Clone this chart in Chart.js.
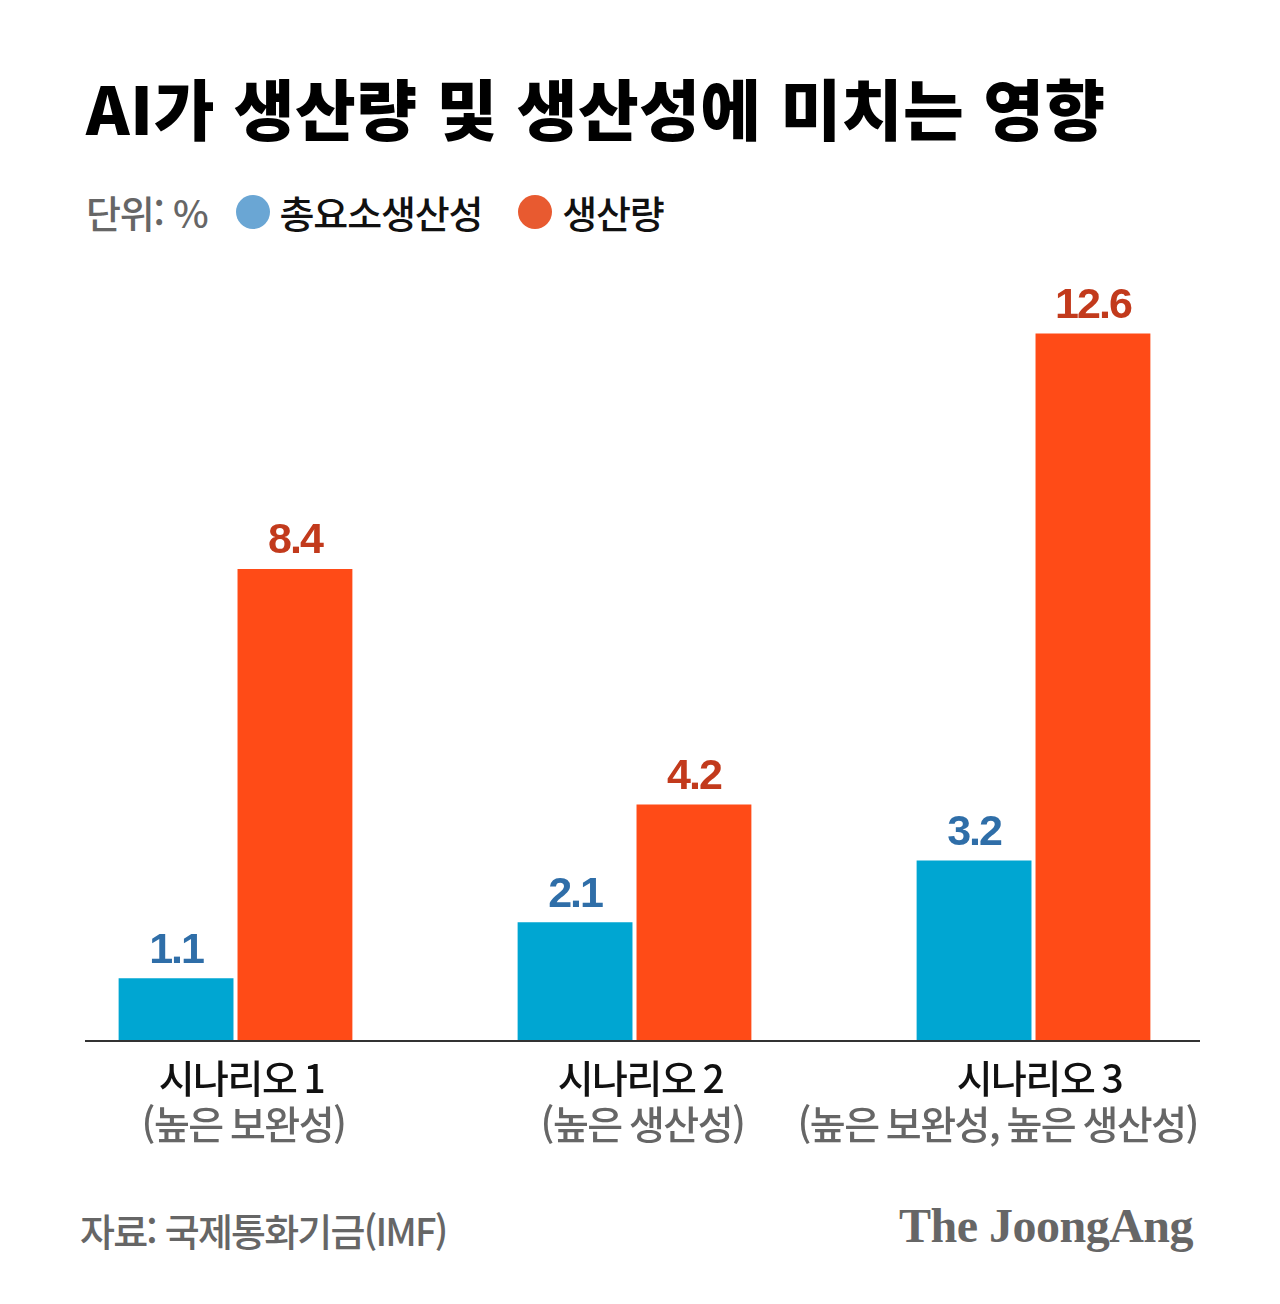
<!DOCTYPE html>
<html lang="ko">
<head>
<meta charset="utf-8">
<script src="https://cdn.jsdelivr.net/npm/chart.js@4"></script>
<style>
  html, body { margin: 0; padding: 0; background: #fff; }
  body { width: 1280px; height: 1304px; position: relative; overflow: hidden; font-family: "Noto Sans CJK KR", sans-serif; }
  .title { position: absolute; left: 86px; top: 58px; font-size: 66px; font-weight: 900; letter-spacing: 0.5px; color: #000; white-space: nowrap; }
  .legend { position: absolute; left: 86px; top: 184px; font-size: 38px; font-weight: 500; letter-spacing: -1.2px; color: #111; white-space: nowrap; display: flex; align-items: center; }
  .legend .unit { color: #666; margin-right: 28px; }
  .legend .dot { display: inline-block; width: 34px; height: 34px; border-radius: 50%; margin-right: 10px; }
  .legend .item { margin-right: 36px; }
  .chart-box { position: absolute; left: 0; top: 250px; width: 1280px; height: 910px; }
  .source { position: absolute; left: 80px; top: 1202px; font-size: 38px; font-weight: 500; letter-spacing: -1.8px; color: #666; white-space: nowrap; }
  .brand { position: absolute; right: 87px; top: 1198px; font-family: "Liberation Serif", serif; font-size: 48px; font-weight: 700; letter-spacing: -0.5px; color: #666; white-space: nowrap; }
</style>
</head>
<body>
<div class="title">AI가 생산량 및 생산성에 미치는 영향</div>
<div class="legend">
  <span class="unit">단위: %</span>
  <span class="dot" style="background:#6aa6d4"></span><span class="item">총요소생산성</span>
  <span class="dot" style="background:#e85a30"></span><span class="item">생산량</span>
</div>
<div class="chart-box"><canvas id="chart"></canvas></div>
<div class="source">자료: 국제통화기금(IMF)</div>
<div class="brand">The JoongAng</div>

<script>
const scenarios = ["시나리오 1", "시나리오 2", "시나리오 3"]
const scenarioNotes = ["(높은 보완성)", "(높은 생산성)", "(높은 보완성, 높은 생산성)"]
const tfpValues = [1.1, 2.1, 3.2]
const outputValues = [8.4, 4.2, 12.6]
const seriesNames = ["총요소생산성", "생산량"]

const labelColors = ["#2f6ea8", "#c23a1c"]

const valueLabels = {
  id: "valueLabels",
  afterDatasetsDraw(chart) {
    const ctx = chart.ctx
    ctx.save()
    ctx.font = "bold 43px 'Liberation Sans', Arial, sans-serif"
    ctx.textAlign = "center"
    ctx.textBaseline = "bottom"
    ctx.letterSpacing = "-2px"
    chart.data.datasets.forEach((ds, di) => {
      const meta = chart.getDatasetMeta(di)
      ctx.fillStyle = labelColors[di]
      meta.data.forEach((bar, i) => {
        ctx.fillText(ds.data[i].toFixed(1), bar.x, bar.y - 6)
      })
    })
    ctx.restore()
  }
}

const baseline = {
  id: "baseline",
  afterDatasetsDraw(chart) {
    const ctx = chart.ctx
    const y = chart.scales.y.getPixelForValue(0)
    ctx.save()
    ctx.strokeStyle = "#333"
    ctx.lineWidth = 2
    ctx.beginPath()
    ctx.moveTo(85, y + 1)
    ctx.lineTo(1200, y + 1)
    ctx.stroke()
    ctx.restore()
  }
}

// two-line category labels, second line grey; keep inside the right edge
const categoryLabels = {
  id: "categoryLabels",
  afterDraw(chart) {
    const ctx = chart.ctx
    const xs = chart.scales.x
    const y0 = chart.scales.y.getPixelForValue(0)
    ctx.save()
    ctx.textAlign = "center"
    ctx.textBaseline = "middle"
    ctx.letterSpacing = "-1.5px"
    ctx.font = "500 39px 'Noto Sans CJK KR', sans-serif"
    scenarios.forEach((name, i) => {
      const x = xs.getPixelForValue(i)
      ctx.fillStyle = "#111"
      ctx.fillText(name, Math.min(x + 6, 1200 - ctx.measureText(name).width / 2), y0 + 38)
      ctx.fillStyle = "#666"
      const note = scenarioNotes[i]
      ctx.fillText(note, Math.min(x + 8, 1198 - ctx.measureText(note).width / 2), y0 + 84)
    })
    ctx.restore()
  }
}

new Chart(document.getElementById("chart"), {
  type: "bar",
  data: {
    labels: scenarios,
    datasets: [
      { label: seriesNames[0], data: tfpValues, backgroundColor: "#00a6d2" },
      { label: seriesNames[1], data: outputValues, backgroundColor: "#ff4b17" }
    ]
  },
  options: {
    responsive: true,
    maintainAspectRatio: false,
    animation: false,
    layout: { padding: { top: 5, left: 36, right: 47, bottom: 0 } },
    datasets: { bar: { categoryPercentage: 0.596, barPercentage: 0.966 } },
    plugins: { legend: { display: false }, tooltip: { enabled: false } },
    scales: {
      x: {
        grid: { display: false },
        border: { display: false },
        ticks: { display: false },
        afterFit: (scale) => { scale.height = 120 }
      },
      y: {
        display: false,
        min: 0,
        max: 14
      }
    }
  },
  plugins: [valueLabels, baseline, categoryLabels]
})
</script>
</body>
</html>
